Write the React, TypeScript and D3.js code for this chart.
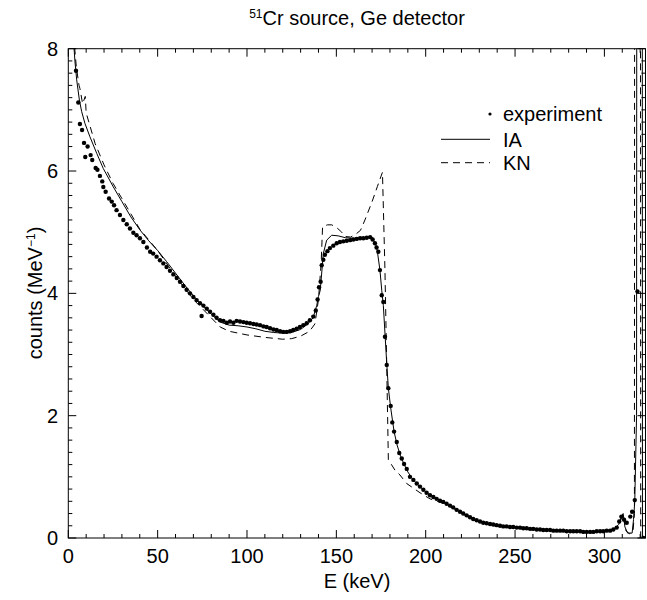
import React from "react";
import * as d3 from "d3";

// Experiment (E keV, counts MeV^-1)
const expE = [4.3,5.6,6.5,7.7,8.8,9.5,10.8,12.5,13.4,15.3,16.3,17.7,19.0,19.6,20.9,22.8,24.3,25.6,27.0,28.9,30.8,32.7,34.5,36.4,38.2,40.1,42.0,44.0,45.8,47.5,49.4,51.3,53.2,55.0,56.9,58.8,60.7,62.5,64.4,66.2,68.1,70.0,71.8,73.7,74.6,75.6,77.5,79.3,81.2,83.0,84.9,86.8,88.7,90.5,92.4,94.2,96.1,98.0,99.8,101.7,103.6,105.4,107.3,109.2,111.0,112.9,114.8,116.6,118.5,120.3,122.2,124.1,125.9,127.8,129.6,131.5,133.4,135.2,137.1,138.5,139.5,140.3,141.2,141.8,142.7,143.6,145.0,146.4,148.3,150.2,152.0,153.9,155.8,157.7,159.5,161.4,163.3,165.1,167.0,168.9,170.3,171.6,172.5,173.5,174.4,175.4,176.3,177.2,178.2,179.1,180.4,181.3,182.3,183.8,185.2,186.6,187.9,189.4,191.2,193.1,195.0,196.8,198.7,200.5,202.4,204.3,206.1,208.0,209.8,211.7,213.6,215.4,217.3,219.2,221.0,222.9,224.8,226.6,228.5,230.4,232.2,234.1,236.0,237.8,239.7,241.6,243.4,245.3,247.2,249.0,250.9,252.8,254.6,256.5,258.4,260.2,262.1,264.0,265.8,267.7,269.6,271.4,273.3,275.2,277.0,278.9,280.8,282.6,284.5,286.4,288.2,290.1,292.0,293.8,295.7,297.6,299.4,301.3,303.2,305.0,306.9,308.3,309.5,311.0,312.5,314.5,315.5,317.0,318.5,321.8];
const expC = [7.64,7.12,6.77,6.67,6.46,6.23,6.40,6.26,6.18,6.05,6.02,5.92,5.83,5.74,5.66,5.55,5.50,5.44,5.36,5.28,5.20,5.13,5.06,4.99,4.95,4.90,4.84,4.75,4.68,4.65,4.60,4.54,4.49,4.43,4.37,4.31,4.25,4.19,4.12,4.06,4.00,3.94,3.89,3.84,3.63,3.80,3.75,3.70,3.65,3.60,3.56,3.55,3.52,3.54,3.52,3.55,3.54,3.53,3.52,3.51,3.50,3.49,3.48,3.46,3.45,3.43,3.41,3.40,3.38,3.37,3.37,3.38,3.40,3.42,3.45,3.48,3.51,3.56,3.62,3.72,3.90,4.10,4.19,4.46,4.55,4.63,4.69,4.74,4.78,4.82,4.84,4.85,4.86,4.87,4.88,4.89,4.90,4.90,4.91,4.92,4.88,4.82,4.75,4.68,4.38,3.97,3.86,3.29,2.83,2.45,2.16,1.89,1.74,1.57,1.39,1.30,1.21,1.13,1.00,0.95,0.89,0.84,0.79,0.74,0.70,0.67,0.64,0.61,0.59,0.56,0.53,0.50,0.46,0.43,0.40,0.37,0.34,0.31,0.29,0.27,0.25,0.24,0.23,0.22,0.21,0.20,0.19,0.19,0.18,0.18,0.17,0.17,0.16,0.16,0.15,0.15,0.14,0.14,0.13,0.13,0.13,0.12,0.12,0.12,0.12,0.11,0.11,0.11,0.11,0.11,0.10,0.10,0.10,0.10,0.11,0.11,0.11,0.12,0.12,0.14,0.17,0.27,0.35,0.30,0.25,0.35,0.43,0.62,4.03,0.0];

// IA calculation (solid)
const iaE = [1.0,3.0,3.7,4.7,6.2,7.5,9.3,12.1,15.9,19.6,25.2,30,35,40,45,50,55,60,65,70,75,80,85,90,95,100,105,110,115,120,125,130,134,137,139,140,141,142.7,144.6,147.4,151,155,160,165,170,172.6,174.4,175.4,176.3,177.2,178.2,179.1,180.4,182.3,184,186,188,190,193,197,202,207,212,217,222,227,232,237,242,247,252,257,262,267,272,277,282,287,292,297,302,305,308,309.5,310.5,311.5,313,315.5,316.3,317,318,318.1,321.2,321.3];
const iaC = [9.0,8.1,7.80,7.49,7.16,6.97,6.78,6.56,6.29,6.04,5.74,5.50,5.25,5.04,4.86,4.70,4.52,4.33,4.14,3.96,3.80,3.66,3.53,3.48,3.47,3.45,3.42,3.38,3.36,3.35,3.36,3.41,3.50,3.60,3.80,3.95,4.05,4.65,4.87,4.95,4.94,4.91,4.90,4.91,4.92,4.76,4.38,4.05,3.80,3.35,2.85,2.45,2.13,1.74,1.52,1.33,1.20,1.08,0.95,0.83,0.71,0.63,0.55,0.46,0.38,0.30,0.25,0.22,0.20,0.18,0.17,0.16,0.14,0.13,0.12,0.12,0.11,0.11,0.10,0.11,0.12,0.14,0.22,0.35,0.40,0.18,0.08,0.08,0.30,0.60,2.0,9.0,9.0,0.0];

// KN calculation (dashed)
const knE = [1.5,3.0,4.5,6.0,6.5,8.0,9.5,10.0,12,15,20,25,30,40,50,60,70,80,85,90,100,110,120,125,130,135,138,140,141.5,142.3,145,147.4,150,153,155,158,161,163.5,166,170,173,175.8,177.2,178.2,179.1,182.8,185.6,189.4,196.8,202.4,209.8,215,220,225,230,235,240,250,260,270,280,290,300,305,308,309.5,310.5,312,314,316,316.8,316.9,320.2,320.3];
const knC = [9.0,8.2,7.7,7.4,7.35,7.1,7.22,6.95,6.75,6.45,6.10,5.80,5.55,5.05,4.70,4.28,3.90,3.60,3.45,3.38,3.32,3.28,3.25,3.26,3.30,3.38,3.50,3.90,4.50,5.09,5.12,5.12,5.08,5.00,4.93,4.92,4.97,5.03,5.20,5.50,5.75,5.98,4.38,2.80,1.28,1.11,1.03,0.89,0.74,0.64,0.57,0.49,0.41,0.32,0.26,0.22,0.19,0.16,0.13,0.12,0.11,0.10,0.11,0.13,0.20,0.32,0.38,0.12,0.07,0.10,0.40,9.0,9.0,0.0];

const xTicksMajor = [0, 50, 100, 150, 200, 250, 300];
const yTicksMajor = [0, 2, 4, 6, 8];

export default function App() {
  const W = 647, H = 600;
  const x = d3.scaleLinear().domain([0, 323]).range([68.3, 645.5]);
  const y = d3.scaleLinear().domain([0, 8]).range([538, 48.7]);
  const [x0, x1] = x.range();
  const [yb, yt] = y.range();

  const mk = (E: number[], C: number[]) =>
    d3.line<number>().x((_, i) => x(E[i])).y((_, i) => y(C[i]))(E) || "";

  const xMinor = d3.range(0, 324, 10);
  const yMinor = d3.range(0, 8.01, 0.2);
  const font = "Liberation Sans, Arial, Helvetica, sans-serif";
  const fs = 20;

  return (
    <svg width={W} height={H} style={{ position: "absolute", left: 0, top: 0 }} fontFamily={font}>
      <defs>
        <clipPath id="plot">
          <rect x={x0} y={yt} width={x1 - x0} height={yb - yt} />
        </clipPath>
      </defs>
      <rect x={0} y={0} width={W} height={H} fill="#fff" />
      {/* title */}
      <text x={357} y={25} textAnchor="middle" fontSize={fs}>
        <tspan fontSize={12} dy={-7}>51</tspan>
        <tspan dy={7}>Cr source, Ge detector</tspan>
      </text>
      {/* ticks */}
      {xMinor.map((v) => {
        const major = v % 50 === 0;
        const L = major ? 8 : 4;
        return (
          <g key={"xt" + v} stroke="#000" strokeWidth={1}>
            <line x1={x(v)} x2={x(v)} y1={yb} y2={yb - L} />
            <line x1={x(v)} x2={x(v)} y1={yt} y2={yt + L} />
          </g>
        );
      })}
      {yMinor.map((v, i) => {
        const major = i % 10 === 0;
        const L = major ? 8 : 4;
        return (
          <g key={"yt" + i} stroke="#000" strokeWidth={1}>
            <line x1={x0} x2={x0 + L} y1={y(v)} y2={y(v)} />
            <line x1={x1} x2={x1 - L} y1={y(v)} y2={y(v)} />
          </g>
        );
      })}
      {xTicksMajor.map((v) => (
        <text key={"xl" + v} x={x(v)} y={563} textAnchor="middle" fontSize={fs}>{v}</text>
      ))}
      {yTicksMajor.map((v) => (
        <text key={"yl" + v} x={58} y={y(v) + 7} textAnchor="end" fontSize={fs}>{v}</text>
      ))}
      <text x={357} y={588} textAnchor="middle" fontSize={fs}>E (keV)</text>
      <text transform={`translate(42,293) rotate(-90)`} textAnchor="middle" fontSize={fs}>
        counts (MeV<tspan fontSize={12} dy={-7}>−1</tspan><tspan dy={7}>)</tspan>
      </text>
      {/* data */}
      <g clipPath="url(#plot)">
        <path d={mk(knE, knC)} fill="none" stroke="#000" strokeWidth={1} strokeDasharray="7,5" />
        <path d={mk(iaE, iaC)} fill="none" stroke="#000" strokeWidth={1} />
        {expE.map((e, i) => (
          <circle key={"p" + i} cx={x(e)} cy={y(expC[i])} r={2.2} fill="#000" />
        ))}
      </g>
      <rect x={x0} y={yt} width={x1 - x0} height={yb - yt} fill="none" stroke="#000" strokeWidth={1} />
      {/* legend */}
      <circle cx={490} cy={114} r={1.6} fill="#000" />
      <text x={503} y={120.5} fontSize={fs}>experiment</text>
      <line x1={441} x2={490} y1={139.3} y2={139.3} stroke="#000" strokeWidth={1} />
      <text x={503} y={146.5} fontSize={fs}>IA</text>
      <line x1={441} x2={490} y1={162.7} y2={162.7} stroke="#000" strokeWidth={1} strokeDasharray="7,5" />
      <text x={503} y={170} fontSize={fs}>KN</text>
    </svg>
  );
}
